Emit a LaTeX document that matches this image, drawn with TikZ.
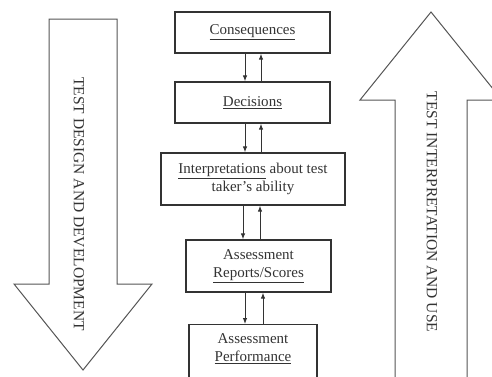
\documentclass[tikz,border=0pt]{standalone}
\usepackage{fontspec}
\setmainfont{Liberation Serif}
\usetikzlibrary{arrows.meta}
\definecolor{ink}{HTML}{333333}
\definecolor{bigline}{HTML}{555555}
\tikzset{
  box/.style={draw=ink, line width=1.2pt, align=center, inner sep=0pt, text=ink,
    font=\fontsize{15}{18}\selectfont},
  conn/.style={draw=ink, line width=1pt, -{Latex[length=6pt,width=4.5pt]}},
  bigarrow/.style={draw=bigline, line width=1pt, fill=white},
  bigtext/.style={text=ink, font=\fontsize{15.5}{18}\selectfont, rotate=-90, inner sep=0pt}
}
\begin{document}
\begin{tikzpicture}[x=1pt,y=-1pt]
\useasboundingbox (0,0) rectangle (492,376);
% big arrows
\draw[bigarrow] (49,19) -- (117,19) -- (117,284) -- (152,284) -- (83,370) -- (14,284) -- (49,284) -- cycle;
\node[bigtext] (tdd) at (79,204) {TEST DESIGN AND DEVELOPMENT};
\draw[bigarrow] (395,380) -- (395,100) -- (360,100) -- (431,12) -- (502,100) -- (467,100) -- (467,380);
\node[bigtext] (tiu) at (432,212) {TEST INTERPRETATION AND USE};
% boxes
\node[box, minimum width=155pt, minimum height=41pt] (cons) at (252.5,32.5) {\underline{Consequences}};
\node[box, minimum width=155pt, minimum height=41pt] (dec) at (252.5,102.5) {\underline{Decisions}};
\node[box, minimum width=184pt, minimum height=52pt] (interp) at (253,179) {\underline{Interpretations} about test\\taker’s ability};
\node[box, minimum width=145pt, minimum height=52pt] (rep) at (258.5,266) {Assessment\\\underline{Reports/Scores}};
\node[box, minimum width=128pt, minimum height=64pt, anchor=north] (perf) at (253,324) {};
\node[box, draw=none] (perftext) at (253,349) {Assessment\\\underline{Performance}};
% connector x positions
\coordinate (d1) at (245,0);
\coordinate (u1) at (261,0);
\coordinate (d2) at (243,0);
\coordinate (u2) at (260,0);
\coordinate (d3) at (245,0);
\coordinate (u3) at (263,0);
\draw[conn] (cons.south -| d1) -- (dec.north -| d1);
\draw[conn] (dec.north -| u1) -- (cons.south -| u1);
\draw[conn] (dec.south -| d1) -- (interp.north -| d1);
\draw[conn] (interp.north -| u1) -- (dec.south -| u1);
\draw[conn] (interp.south -| d2) -- (rep.north -| d2);
\draw[conn] (rep.north -| u2) -- (interp.south -| u2);
\draw[conn] (rep.south -| d3) -- (perf.north -| d3);
\draw[conn] (perf.north -| u3) -- (rep.south -| u3);
\end{tikzpicture}
\end{document}
